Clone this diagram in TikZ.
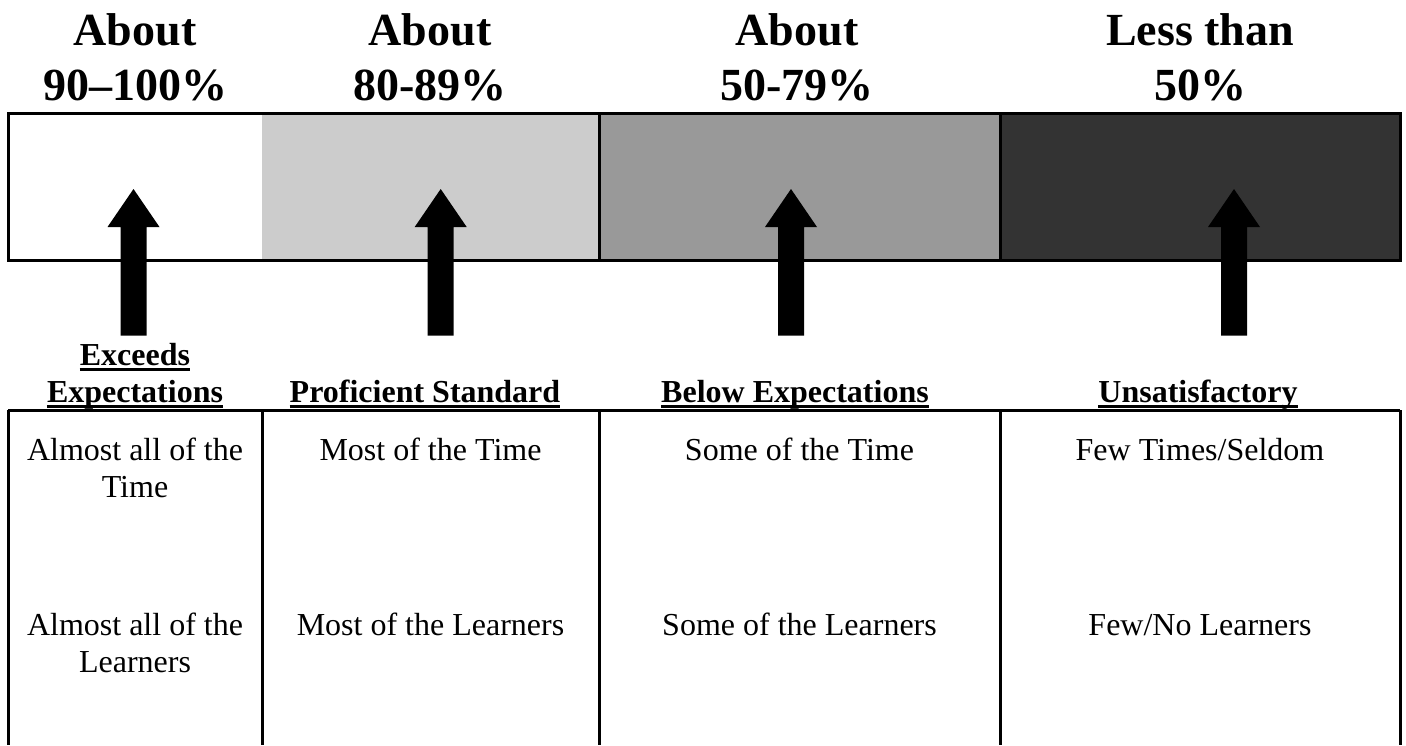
\documentclass[tikz,border=0pt]{standalone}
\usepackage{fontspec}
\setmainfont{Liberation Serif}
\begin{document}
\begin{tikzpicture}[x=1pt,y=-1pt,
  head/.style={font=\fontsize{46}{55}\selectfont\bfseries, inner sep=0pt, anchor=base},
  lab/.style={font=\fontsize{32}{37}\selectfont\bfseries, inner sep=0pt, anchor=base},
  cell/.style={font=\fontsize{32}{37}\selectfont, inner sep=0pt, anchor=base},
  frame/.style={line width=3pt},
  uline/.style={line width=3pt},
  blockarrow/.style={fill=black, draw=none}]
\useasboundingbox (0,0) rectangle (1406,745);
% headings
\node[head] (h1a) at (135,45) {About};
\node[head] (h1b) at (135,100) {90–100\%};
\node[head] (h2a) at (430,45) {About};
\node[head] (h2b) at (430,100) {80-89\%};
\node[head] (h3a) at (797,45) {About};
\node[head] (h3b) at (797,100) {50-79\%};
\node[head] (h4a) at (1200,45) {Less than};
\node[head] (h4b) at (1200,100) {50\%};
% bar
\fill[white] (8,113) rectangle (262,260);
\fill[black!20] (262,113) rectangle (599,260);
\fill[black!40] (599,113) rectangle (1000,260);
\fill[black!80] (1000,113) rectangle (1400,260);
\draw[frame] (8,113) rectangle (1400,260);
\draw[frame] (599,113) -- (599,260);
\draw[frame] (1000,113) -- (1000,260);
% block arrows
\foreach \cx in {133.5,440.7,791,1234}{
  \fill[blockarrow] (\cx,189) -- (\cx+26,227) -- (\cx+13,227) -- (\cx+13,335.5)
    -- (\cx-13,335.5) -- (\cx-13,227) -- (\cx-26,227) -- cycle;
}
% labels
\node[lab] (l1a) at (135,365) {Exceeds};
\node[lab] (l1b) at (135,402) {Expectations};
\node[lab] (l2) at (425,402) {Proficient Standard};
\node[lab] (l3) at (795,402) {Below Expectations};
\node[lab] (l4) at (1198,402) {Unsatisfactory};
\foreach \n in {l1a,l1b,l2,l3,l4}{
  \draw[uline] ([yshift=-4.5pt]\n.base west) -- ([yshift=-4.5pt]\n.base east);
}
% table
\draw[frame] (8,410) -- (1400,410);
\foreach \vx in {8,262,599,1000,1400}{
  \draw[frame] (\vx,410) -- (\vx,745);
}
% cells
\node[cell] (c1a) at (135,460) {Almost all of the};
\node[cell] (c1b) at (135,497) {Time};
\node[cell] (c2a) at (430.5,460) {Most of the Time};
\node[cell] (c3a) at (799.5,460) {Some of the Time};
\node[cell] (c4a) at (1200,460) {Few Times/Seldom};
\node[cell] (d1a) at (135,635) {Almost all of the};
\node[cell] (d1b) at (135,672) {Learners};
\node[cell] (d2a) at (430.5,635) {Most of the Learners};
\node[cell] (d3a) at (799.5,635) {Some of the Learners};
\node[cell] (d4a) at (1200,635) {Few/No Learners};
\end{tikzpicture}
\end{document}
